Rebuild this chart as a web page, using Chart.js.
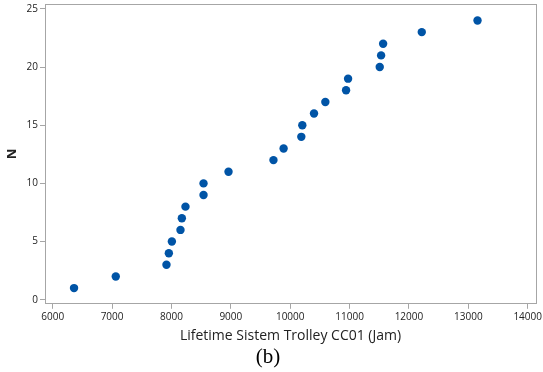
<!DOCTYPE html>
<html><head><meta charset="utf-8">
<script src="https://cdn.jsdelivr.net/npm/chart.js@4"></script>
<style>html,body{margin:0;padding:0;background:#fff;}#wrap{width:543px;height:372px;}</style>
</head><body><div id="wrap"><canvas id="c" width="543" height="372"></canvas></div>
<script>
const lifetimeHours = [6359, 7062, 7916, 7956, 8007, 8152, 8175, 8236, 8540, 8540, 8961, 9718, 9889, 10187, 10204, 10401, 10592, 10941, 10975, 11508, 11531, 11565, 12216, 13155];
const rankN = [1,2,3,4,5,6,7,8,9,10,11,12,13,14,15,16,17,18,19,20,21,22,23,24];
const xTickValues = [6000,7000,8000,9000,10000,11000,12000,13000,14000];
const yTickValues = [0,5,10,15,20,25];
const xTitle = 'Lifetime Sistem Trolley CC01 (Jam)';
const yTitle = 'N';
const caption = '(b)';

const points = lifetimeHours.map((x,i)=>({x:x, y:rankN[i]}));
const frame = '#a6a6a6';
const txt = '#222';
const tickFont = {family:'Open Sans', size:10};
const noPad = s=>{s.paddingTop=0;s.paddingBottom=0;s.paddingLeft=0;s.paddingRight=0;};
const X_MIN = 5870, X_MAX = 14140, Y_MIN = -0.35, Y_MAX = 25.4;

new Chart(document.getElementById('c'), {
  type:'scatter',
  data:{datasets:[{data:points, backgroundColor:'#0054a6', borderColor:'#0054a6', pointRadius:4.2, pointHoverRadius:4.2, borderWidth:0}]},
  options:{
    responsive:false, animation:false, devicePixelRatio:1,
    layout:{padding:{left:0,right:7,top:3,bottom:0}},
    plugins:{legend:{display:false}, tooltip:{enabled:false},
      title:{display:true, position:'bottom', text:caption, color:'#000', font:{family:'Liberation Serif', size:21, weight:'normal', lineHeight:1.2}, padding:{top:0,bottom:2}}},
    scales:{
      x:{type:'linear', position:'bottom', min:X_MIN, max:X_MAX,
        afterBuildTicks:s=>{s.ticks = xTickValues.map(v=>({value:v}));},
        afterFit:s=>{s.height=41; noPad(s);},
        ticks:{color:txt, font:tickFont, padding:2, maxRotation:0, autoSkip:false, callback:v=>String(v)},
        grid:{drawOnChartArea:false, drawTicks:true, tickLength:5, color:frame},
        border:{display:true, color:frame, width:1},
        title:{display:true, text:xTitle, color:txt, font:{family:'Open Sans', size:14}, padding:{top:1,bottom:0}}},
      y:{type:'linear', position:'left', min:Y_MIN, max:Y_MAX,
        afterBuildTicks:s=>{s.ticks = yTickValues.map(v=>({value:v}));},
        afterFit:s=>{s.width=45; noPad(s);},
        ticks:{color:txt, font:tickFont, padding:2, autoSkip:false, callback:v=>String(v)},
        grid:{drawOnChartArea:false, drawTicks:true, tickLength:5, color:frame},
        border:{display:true, color:frame, width:1},
        title:{display:true, text:yTitle, color:txt, font:{family:'Open Sans', size:13, weight:'bold'}, padding:{top:4,bottom:0}}},
      x2:{type:'linear', position:'top', min:X_MIN, max:X_MAX, afterFit:s=>{s.height=0; noPad(s);},
        ticks:{display:false}, grid:{display:false}, border:{display:true, color:frame, width:1}},
      y2:{type:'linear', position:'right', min:Y_MIN, max:Y_MAX, afterFit:s=>{s.width=0; noPad(s);},
        ticks:{display:false}, grid:{display:false}, border:{display:true, color:frame, width:1}}
    }
  }
});
</script></body></html>
